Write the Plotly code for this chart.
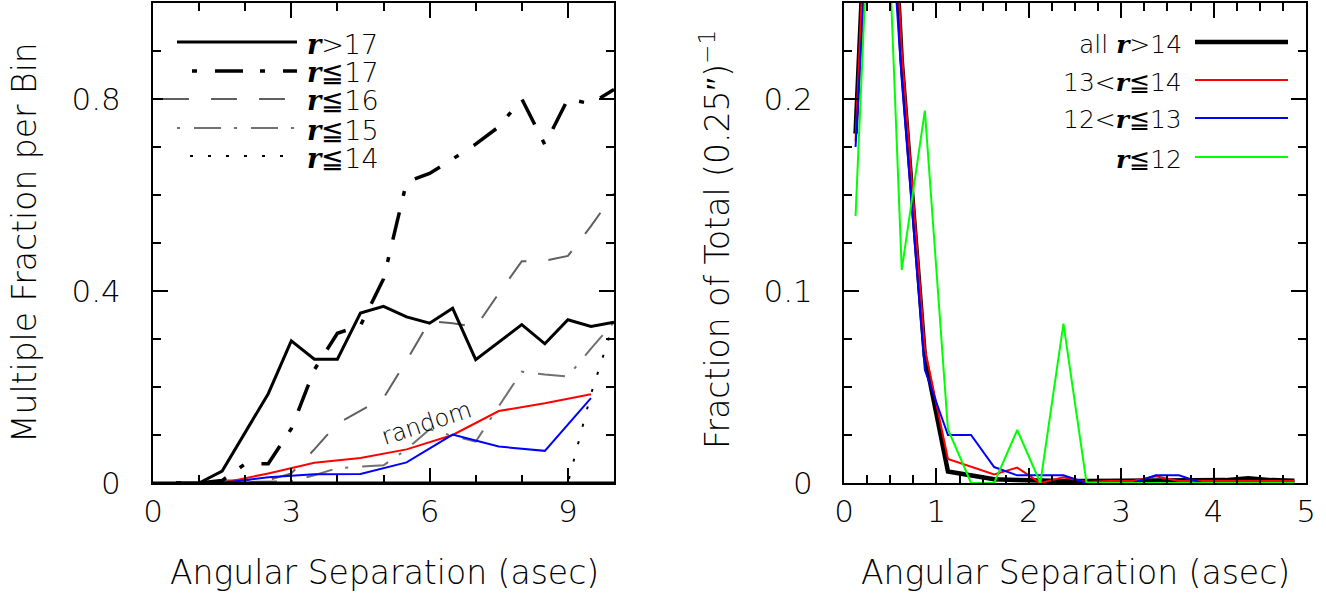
import plotly.graph_objects as go

W, H = 1326, 594

# ---------------- Left panel data ----------------
sep_left = [0.5, 1.0, 1.5, 2.0, 2.5, 3.0, 3.5, 4.0, 4.5, 5.0,
            5.5, 6.0, 6.5, 7.0, 7.5, 8.0, 8.5, 9.0, 9.5, 10.0]
frac_r_gt17 = [0, 0, 0.025, 0.105, 0.186, 0.296, 0.258, 0.258, 0.354, 0.368,
               0.346, 0.333, 0.364, 0.257, 0.294, 0.330, 0.290, 0.340, 0.326, 0.335]
frac_r_le17 = [0, 0, 0.005, 0.040, 0.040, 0.113, 0.236, 0.312, 0.328, 0.425,
               0.627, 0.645, 0.675, 0.706, 0.742, 0.800, 0.705, 0.800, 0.790, 0.820]
frac_r_le16 = [0, 0, 0.005, 0.006, 0.006, 0.020, 0.070, 0.124, 0.150, 0.177,
               0.255, 0.337, 0.333, 0.325, 0.395, 0.462, 0.463, 0.473, 0.535, 0.603]
frac_r_le15 = [0, 0, 0, 0.002, 0.003, 0.004, 0.016, 0.031, 0.034, 0.037,
               0.070, 0.112, 0.098, 0.086, 0.160, 0.232, 0.226, 0.222, 0.280, 0.335]
frac_r_le14 = [0, 0, 0, 0, 0, 0, 0, 0, 0, 0,
               0, 0, 0, 0, 0, 0, 0, 0.0, 0.185, 0.335]
sep_random = [1.5, 2.5, 3.5, 4.5, 5.5, 6.5, 7.5, 8.5, 9.5]
random_red = [0, 0.020, 0.042, 0.052, 0.070, 0.100, 0.150, 0.166, 0.185]
random_blue = [0, 0.012, 0.018, 0.019, 0.043, 0.101, 0.076, 0.067, 0.177]

# ---------------- Right panel data ----------------
sep_right = [0.125, 0.375, 0.625, 0.875, 1.125, 1.375, 1.625, 1.875, 2.125, 2.375,
             2.625, 2.875, 3.125, 3.375, 3.625, 3.875, 4.125, 4.375, 4.625, 4.875]
tot_all_gt14 = [0.182, 0.450, 0.220, 0.066, 0.006, 0.004, 0.002, 0.0015, 0.001, 0.001,
                0.001, 0.001, 0.001, 0.0012, 0.001, 0.001, 0.0015, 0.0025, 0.0015, 0.0012]
tot_13_14 = [0.178, 0.460, 0.225, 0.070, 0.0125, 0.0083, 0.0045, 0.008, 0.0, 0.003,
             0.0005, 0.001, 0.001, 0.0035, 0.001, 0.0012, 0.001, 0.001, 0.001, 0.001]
tot_12_13 = [0.175, 0.390, 0.210, 0.059, 0.025, 0.025, 0.0083, 0.004, 0.004, 0.004,
             0, 0, 0, 0.004, 0.004, 0, 0, 0, 0, 0]
tot_le12 = [0.139, 0.418, 0.111, 0.194, 0.028, 0, 0, 0.0276, 0, 0.083,
            0, 0, 0, 0, 0, 0, 0, 0, 0, 0]

FONT = "DejaVu Sans"
WEIGHT = 200
R = "<span style=\"font-family:'DejaVu Serif';font-weight:bold\"><i>r</i></span>"

DASH_R17 = "5px,18px,28px,17px"
DASH_R16 = "26px,22px"
DASH_R15 = "3px,14px,27px,13px"
DASH_R14 = "3px,15px"
GRAY16 = "#5f5f5f"
GRAY15 = "#707070"

fig = go.Figure()

# left panel traces
fig.add_trace(go.Scatter(x=sep_left, y=frac_r_le16, mode="lines",
                         line=dict(color=GRAY16, width=2, dash=DASH_R16), xaxis="x", yaxis="y"))
fig.add_trace(go.Scatter(x=sep_left, y=frac_r_le15, mode="lines",
                         line=dict(color=GRAY15, width=2, dash=DASH_R15), xaxis="x", yaxis="y"))
fig.add_trace(go.Scatter(x=sep_left, y=frac_r_le14, mode="lines",
                         line=dict(color="black", width=2, dash=DASH_R14), xaxis="x", yaxis="y"))
fig.add_trace(go.Scatter(x=sep_random, y=random_red, mode="lines",
                         line=dict(color="#ff0000", width=2), xaxis="x", yaxis="y"))
fig.add_trace(go.Scatter(x=sep_random, y=random_blue, mode="lines",
                         line=dict(color="#0000ff", width=2), xaxis="x", yaxis="y"))
fig.add_trace(go.Scatter(x=sep_left, y=frac_r_le17, mode="lines",
                         line=dict(color="black", width=3.5, dash=DASH_R17), xaxis="x", yaxis="y"))
fig.add_trace(go.Scatter(x=sep_left, y=frac_r_gt17, mode="lines",
                         line=dict(color="black", width=3), xaxis="x", yaxis="y"))

# right panel traces
fig.add_trace(go.Scatter(x=sep_right, y=tot_all_gt14, mode="lines",
                         line=dict(color="black", width=4.5), xaxis="x2", yaxis="y2"))
fig.add_trace(go.Scatter(x=sep_right, y=tot_13_14, mode="lines",
                         line=dict(color="#ff0000", width=2), xaxis="x2", yaxis="y2"))
fig.add_trace(go.Scatter(x=sep_right, y=tot_12_13, mode="lines",
                         line=dict(color="#0000ff", width=2), xaxis="x2", yaxis="y2"))
fig.add_trace(go.Scatter(x=sep_right, y=tot_le12, mode="lines",
                         line=dict(color="#00ff00", width=2), xaxis="x2", yaxis="y2"))


def px(x):
    return x / W


def py(y):
    return 1 - y / H


def axis(domain, rng, dtick, mdtick, standoff, anchor):
    return dict(domain=domain, range=rng, dtick=dtick, tick0=0, automargin=False,
                showline=True, linecolor="black", linewidth=2, mirror="allticks",
                ticks="inside", ticklen=15, tickwidth=2, tickcolor="black",
                showgrid=False, zeroline=False, anchor=anchor,
                ticklabelstandoff=standoff,
                tickfont=dict(family=FONT, size=31, color="black", weight=WEIGHT),
                minor=dict(ticks="inside", ticklen=8, tickwidth=2, tickcolor="black",
                           dtick=mdtick, tick0=0, showgrid=False))


ydom = [py(483), py(3)]
fig.update_layout(
    width=W, height=H, margin=dict(l=0, r=0, t=0, b=0),
    paper_bgcolor="white", plot_bgcolor="white", showlegend=False,
    xaxis=axis([px(153), px(614)], [0, 10], 3, 1, 0, "y"),
    yaxis=axis(ydom, [0, 1.0], 0.4, 0.1, 24, "x"),
    xaxis2=axis([px(844), px(1306)], [0, 5], 1, 0.25, 0, "y2"),
    yaxis2=axis(ydom, [0, 0.25], 0.1, 0.025, 23, "x2"),
)

shapes = []
annotations = []

# bottom frame of left panel drawn over the zero-level lines
shapes.append(dict(type="line", xref="x domain", yref="y", x0=0, x1=1, y0=0, y1=0,
                   line=dict(color="black", width=3), layer="above"))

# left legend
left_leg = [
    (f"{R}&gt;17", "black", 3, None, 177, 42),
    (f"{R}≦17", "black", 3.5, DASH_R17, 192, 71),
    (f"{R}≦16", GRAY16, 2, DASH_R16, 163, 99),
    (f"{R}≦15", GRAY15, 2, DASH_R15, 177, 128),
    (f"{R}≦14", "black", 2, DASH_R14, 190, 156),
]
for text, color, width, dash, x0, yy in left_leg:
    ln = dict(color=color, width=width)
    if dash:
        ln["dash"] = dash
    shapes.append(dict(type="line", xref="paper", yref="paper",
                       x0=px(x0), x1=px(297), y0=py(yy), y1=py(yy), line=ln))
    annotations.append(dict(xref="paper", yref="paper", x=px(305), y=py(yy + 2),
                            xanchor="left", yanchor="middle", showarrow=False, text=text,
                            font=dict(family=FONT, size=27, color="black", weight=WEIGHT)))

# right legend
right_leg = [
    (f"all {R}&gt;14", "black", 4.5, 42),
    (f"13&lt;{R}≦14", "#ff0000", 2, 80),
    (f"12&lt;{R}≦13", "#0000ff", 2, 118),
    (f"{R}≦12", "#00ff00", 2, 157),
]
for text, color, width, yy in right_leg:
    shapes.append(dict(type="line", xref="paper", yref="paper",
                       x0=px(1195), x1=px(1288), y0=py(yy), y1=py(yy),
                       line=dict(color=color, width=width)))
    annotations.append(dict(xref="paper", yref="paper", x=px(1184), y=py(yy + 2),
                            xanchor="right", yanchor="middle", showarrow=False, text=text,
                            font=dict(family=FONT, size=25, color="black", weight=WEIGHT)))

# "random" label
annotations.append(dict(xref="x", yref="y", x=5.94, y=0.125, text="random", textangle=-18,
                        showarrow=False,
                        font=dict(family=FONT, size=24, color="black", weight=WEIGHT)))

# axis titles
tfont = dict(family=FONT, size=33, color="black", weight=WEIGHT)
annotations.append(dict(xref="paper", yref="paper", x=px(384), y=py(572),
                        text="Angular Separation (asec)", showarrow=False, font=tfont,
                        xanchor="center", yanchor="middle"))
annotations.append(dict(xref="paper", yref="paper", x=px(1075), y=py(572),
                        text="Angular Separation (asec)", showarrow=False, font=tfont,
                        xanchor="center", yanchor="middle"))
annotations.append(dict(xref="paper", yref="paper", x=px(24), y=py(243),
                        text="Multiple Fraction per Bin", showarrow=False, font=tfont,
                        textangle=-90, xanchor="center", yanchor="middle"))
annotations.append(dict(xref="paper", yref="paper", x=px(716), y=py(240),
                        text="Fraction of Total (0.25″)<sup>−1</sup>", showarrow=False,
                        font=tfont, textangle=-90, xanchor="center", yanchor="middle"))

fig.update_layout(shapes=shapes, annotations=annotations)
fig.write_html("out.html")
